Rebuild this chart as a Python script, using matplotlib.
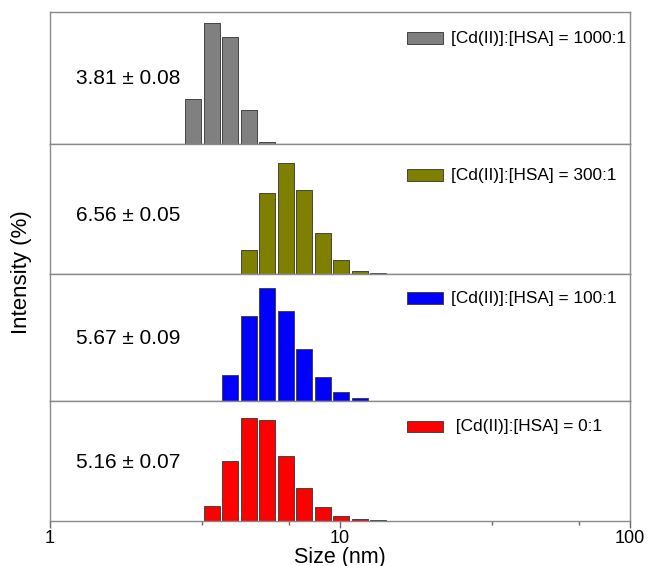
import numpy as np
import matplotlib
matplotlib.use('Agg')
import matplotlib.pyplot as plt
from matplotlib.ticker import FixedLocator, NullFormatter

plt.rcParams['font.family'] = ['Liberation Sans', 'DejaVu Sans']

# bin centres (nm)
sizes = [3.12, 3.62, 4.19, 4.85, 5.62, 6.50, 7.53, 8.72, 10.1, 11.7, 13.5]

# intensity (%) per bin, one list per sample
int_1000 = [14.6, 39.3, 34.7, 10.9, 0.5, 0, 0, 0, 0, 0, 0]
int_300 = [0, 0, 0, 6.6, 22.5, 31.0, 23.5, 11.5, 3.8, 0.8, 0.2]
int_100 = [0, 0, 6.5, 21.1, 28.2, 22.3, 13.0, 6.0, 2.3, 0.7, 0]
int_0 = [0, 3.7, 15.1, 26.1, 25.4, 16.5, 8.2, 3.4, 1.2, 0.4, 0.1]

labels = ['[Cd(II)]:[HSA] = 1000:1', '[Cd(II)]:[HSA] = 300:1',
          '[Cd(II)]:[HSA] = 100:1', ' [Cd(II)]:[HSA] = 0:1']
means = ['3.81 ± 0.08', '6.56 ± 0.05', '5.67 ± 0.09', '5.16 ± 0.07']
colors = ['#808080', '#808000', '#0000ff', '#ff0000']
series = [int_1000, int_300, int_100, int_0]
ymax = [42.9, 36.3, 31.6, 30.3]

W, H = 649, 566
fig = plt.figure(figsize=(W / 100, H / 100), dpi=100)

# panel edges in pixels (top, bottom)
edges = [(12, 144), (144, 274), (274, 401), (401, 520.7)]
x0, x1 = 50, 630
legend_y = [0.80, 0.76, 0.81, 0.79]
text_y = [0.50, 0.45, 0.49, 0.49]

lx = np.log10(sizes)
hw = 0.0276  # half bar width in decades
left = 10 ** (lx - hw)
right = 10 ** (lx + hw)

axes = []
for i, (t, b) in enumerate(edges):
    ax = fig.add_axes([x0 / W, 1 - b / H, (x1 - x0) / W, (b - t) / H])
    vals = np.array(series[i])
    mask = vals > 0
    ax.bar(left[mask], vals[mask], width=(right - left)[mask], align='edge',
           color=colors[i], edgecolor='#444444', linewidth=0.7)
    ax.set_xscale('log')
    ax.set_xlim(1, 100)
    ax.set_ylim(0, ymax[i])
    ax.set_yticks([])
    for s in ax.spines.values():
        s.set_color('#8a8a8a')
        s.set_linewidth(1.0)
    ax.text(0.135, text_y[i], means[i], transform=ax.transAxes,
            ha='center', va='center', fontsize=15)
    # legend swatch + label
    ax.add_patch(plt.Rectangle((0.616, legend_y[i] - 0.045), 0.062, 0.09,
                               transform=ax.transAxes, facecolor=colors[i],
                               edgecolor='#444444', linewidth=0.7, clip_on=False))
    ax.text(0.692, legend_y[i], labels[i], transform=ax.transAxes,
            ha='left', va='center', fontsize=12.4)
    if i < 3:
        ax.set_xticks([])
        ax.xaxis.set_minor_locator(FixedLocator([]))
    axes.append(ax)

ax = axes[-1]
ax.set_xticks([1, 10, 100])
ax.set_xticklabels(['1', '10', '100'], fontsize=13)
ax.xaxis.set_minor_locator(FixedLocator([10 / 3, 20 / 3, 100 / 3, 200 / 3]))
ax.xaxis.set_minor_formatter(NullFormatter())
ax.tick_params(axis='x', which='major', length=5, width=1, color='#6a6a6a', pad=2)
ax.tick_params(axis='x', which='minor', length=3, width=1, color='#6a6a6a')

fig.text(340 / W, 1 - 557 / H, 'Size (nm)', ha='center', va='center', fontsize=15.5)
fig.text(22 / W, 1 - 272 / H, 'Intensity (%)', rotation=90, ha='center',
         va='center', fontsize=16)

fig.savefig('out.png', dpi=100)
